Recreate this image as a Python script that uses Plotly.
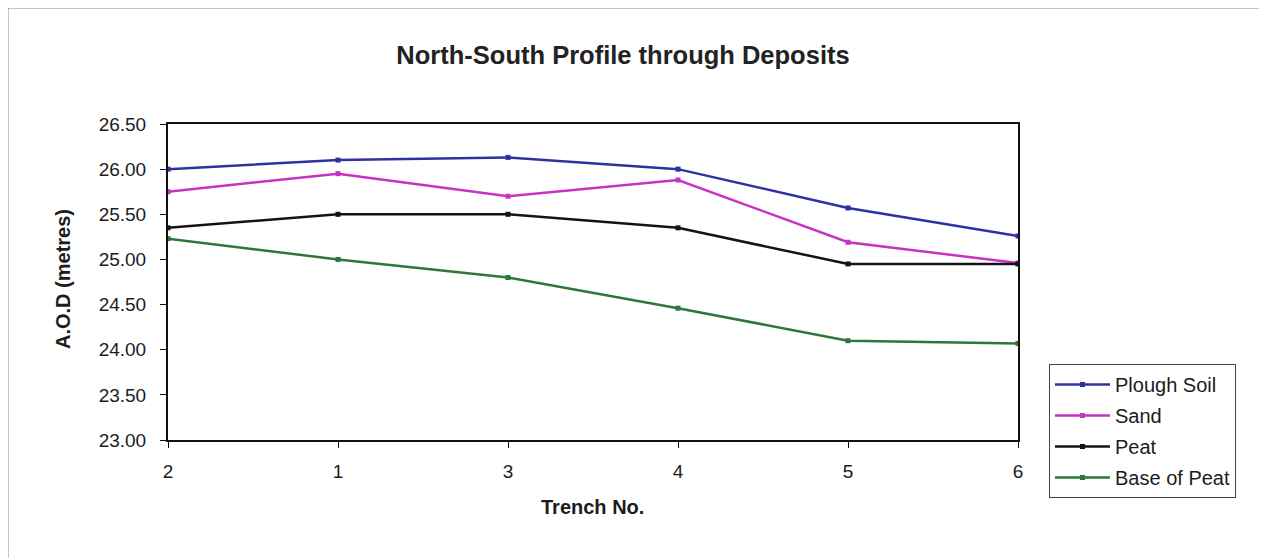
import plotly.graph_objects as go

trenches = ["2", "1", "3", "4", "5", "6"]
plough_soil = [26.00, 26.10, 26.13, 26.00, 25.57, 25.26]
sand = [25.75, 25.95, 25.70, 25.88, 25.19, 24.96]
peat = [25.35, 25.50, 25.50, 25.35, 24.95, 24.95]
base_of_peat = [25.23, 25.00, 24.80, 24.46, 24.10, 24.07]

series = [
    ("Plough Soil", plough_soil, "#2f30a3"),
    ("Sand", sand, "#c832c2"),
    ("Peat", peat, "#141414"),
    ("Base of Peat", base_of_peat, "#2e773a"),
]

xpos = list(range(len(trenches)))
FONT = "Liberation Sans, Arial, sans-serif"
TXT = "#1c1c1c"

# page body adds an 8px margin; work in reference-screen pixels and shift
OFF = 8
W, H = 1267 - OFF, 558 - OFF
L, R, T, B = 168 - OFF, 1018 - OFF, 124 - OFF, 440 - OFF


def px(x):
    return (x - OFF - L) / (R - L)


def py(y):
    return (B - (y - OFF)) / (B - T)


fig = go.Figure()
for name, vals, col in series:
    fig.add_trace(go.Scatter(
        x=xpos, y=vals, name=name, mode="lines+markers",
        legendgroup=name,
        line=dict(color=col, width=2.5),
        marker=dict(symbol="square", size=5, color=col),
    ))

fig.update_layout(
    width=W, height=H,
    margin=dict(l=L, r=W - R, t=T, b=H - B),
    paper_bgcolor="white", plot_bgcolor="white",
    font=dict(family=FONT, color=TXT, size=19),
    showlegend=True,
    legend=dict(
        x=px(1049), y=py(364),
        xanchor="left", yanchor="top",
        bordercolor="#444", borderwidth=1, bgcolor="white",
        font=dict(family=FONT, size=20, color=TXT),
        itemwidth=55, tracegroupgap=2,
    ),
    title=dict(
        text="<b>North-South Profile through Deposits</b>",
        x=(623 - OFF) / W, xref="container", xanchor="center",
        y=1 - (55 - OFF) / H, yref="container", yanchor="middle",
        font=dict(family=FONT, size=25.5, color="#222"),
    ),
    xaxis=dict(
        range=[0, len(trenches) - 1], tickvals=xpos, ticktext=trenches,
        showgrid=False, zeroline=False,
        showline=True, linecolor="#111", linewidth=2, mirror=True,
        ticks="outside", ticklen=6, tickcolor="#111", tickwidth=1,
        ticklabelstandoff=7,
        tickfont=dict(family=FONT, size=19, color=TXT),
    ),
    yaxis=dict(
        range=[23, 26.5], dtick=0.5, tick0=23, tickformat=".2f",
        showgrid=False, zeroline=False,
        showline=True, linecolor="#111", linewidth=2, mirror=True,
        ticks="outside", ticklen=6, tickcolor="#111", tickwidth=1,
        ticklabelstandoff=10,
        tickfont=dict(family=FONT, size=19, color=TXT),
    ),
    annotations=[
        dict(text="<b>A.O.D (metres)</b>", textangle=-90,
             xref="paper", yref="paper",
             x=px(63), y=py(279),
             xanchor="center", yanchor="middle", showarrow=False,
             font=dict(family=FONT, size=20, color=TXT)),
        dict(text="<b>Trench No.</b>",
             xref="paper", yref="paper",
             x=px(592), y=py(507),
             xanchor="center", yanchor="middle", showarrow=False,
             font=dict(family=FONT, size=20, color=TXT)),
    ],
    shapes=[
        dict(type="rect", xref="paper", yref="paper",
             x0=px(8), x1=px(1264),
             y0=py(620), y1=py(8),
             line=dict(color="#8a8a8a", width=1), layer="below"),
    ],
)

fig.write_html("out.html")
